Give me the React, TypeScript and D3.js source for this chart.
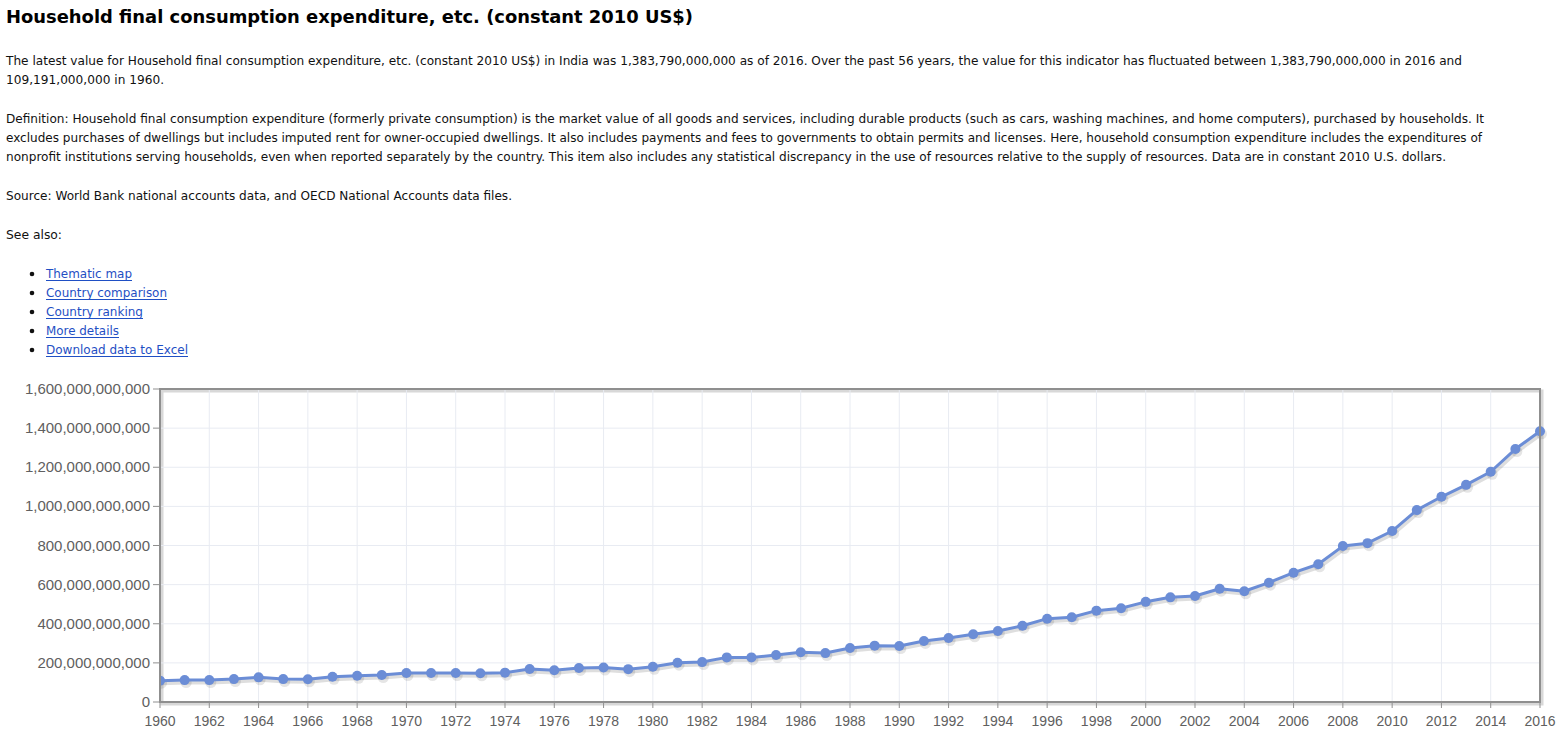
import React from "react";
import * as d3 from "d3";

// India, household final consumption expenditure (constant 2010 US$), billions
const years = d3.range(1960, 2017);
const valuesBn = [
  109.19, 112, 112, 117, 126, 117, 116, 129, 134, 138,
  148, 148, 148, 147, 150, 169, 162, 174, 176, 168,
  180, 201, 204, 228, 228, 240, 254, 250, 276, 288,
  286, 312, 327, 346, 363, 390, 426, 433, 467, 479,
  512, 535, 542, 579, 566, 610, 661, 704, 797, 812,
  874, 981, 1049, 1110, 1177, 1293, 1383.79,
];
const yTicks = [0, 2e11, 4e11, 6e11, 8e11, 1e12, 1.2e12, 1.4e12, 1.6e12];
const xTicks = d3.range(1960, 2017, 2);

const title = "Household final consumption expenditure, etc. (constant 2010 US$)";
const introLines = [
  "The latest value for Household final consumption expenditure, etc. (constant 2010 US$) in India was 1,383,790,000,000 as of 2016. Over the past 56 years, the value for this indicator has fluctuated between 1,383,790,000,000 in 2016 and",
  "109,191,000,000 in 1960.",
];
const definitionLines = [
  "Definition: Household final consumption expenditure (formerly private consumption) is the market value of all goods and services, including durable products (such as cars, washing machines, and home computers), purchased by households. It",
  "excludes purchases of dwellings but includes imputed rent for owner-occupied dwellings. It also includes payments and fees to governments to obtain permits and licenses. Here, household consumption expenditure includes the expenditures of",
  "nonprofit institutions serving households, even when reported separately by the country. This item also includes any statistical discrepancy in the use of resources relative to the supply of resources. Data are in constant 2010 U.S. dollars.",
];
const sourceLine = "Source: World Bank national accounts data, and OECD National Accounts data files.";
const links = ["Thematic map", "Country comparison", "Country ranking", "More details", "Download data to Excel"];

// measured right edges of each text line (to keep wrapping identical)
const introEnds = [1462, 164];
const definitionEnds = [1484, 1482, 1446];
const linkEnds = [132, 167, 143, 119, 188];

const W = 1564;
const H = 745;
const plot = { left: 160, right: 1540, top: 389, bottom: 702 };
const lineColor = "#6b8dd6";
const textFont = "'DejaVu Sans', Verdana, sans-serif";
const axisFont = "'Liberation Sans', Arial, sans-serif";

export default function App() {
  const x = d3.scaleLinear().domain([1960, 2016]).range([plot.left, plot.right]);
  const y = d3.scaleLinear().domain([0, 1.6e12]).range([plot.bottom, plot.top]);
  const data = years.map((yr, i) => ({ yr, v: valuesBn[i] * 1e9 }));
  const line = d3
    .line<{ yr: number; v: number }>()
    .x((d) => x(d.yr))
    .y((d) => y(d.v));
  const fmt = d3.format(",.0f");
  const path = line(data) || "";

  return (
    <div style={{ position: "absolute", left: 0, top: 0, background: "#fff" }}>
      <svg width={W} height={H} style={{ display: "block" }}>
        <defs>
          <clipPath id="plotClip">
            <rect x={plot.left} y={plot.top - 8} width={plot.right - plot.left + 8} height={plot.bottom - plot.top + 8} />
          </clipPath>
        </defs>

        {/* header text */}
        <text x={6} y={23} fontFamily={textFont} fontWeight="bold" fontSize={17} fill="#000"
          textLength={687} lengthAdjust="spacingAndGlyphs">{title}</text>
        {introLines.map((t, i) => (
          <text key={t} x={6} y={65 + i * 19} fontFamily={textFont} fontSize={12} fill="#111"
            textLength={introEnds[i] - 6} lengthAdjust="spacingAndGlyphs">{t}</text>
        ))}
        {definitionLines.map((t, i) => (
          <text key={t} x={6} y={122.5 + i * 19} fontFamily={textFont} fontSize={12} fill="#111"
            textLength={definitionEnds[i] - 6} lengthAdjust="spacingAndGlyphs">{t}</text>
        ))}
        <text x={6} y={199.5} fontFamily={textFont} fontSize={12} fill="#111"
          textLength={506} lengthAdjust="spacingAndGlyphs">{sourceLine}</text>
        <text x={6} y={238.5} fontFamily={textFont} fontSize={12} fill="#111"
          textLength={56} lengthAdjust="spacingAndGlyphs">See also:</text>
        {links.map((t, i) => {
          const by = 278 + i * 19;
          return (
            <g key={t}>
              <circle cx={32} cy={by - 4} r={2.3} fill="#111" />
              <text x={46} y={by} fontFamily={textFont} fontSize={12} fill="#1f4fc4"
                textLength={linkEnds[i] - 46} lengthAdjust="spacingAndGlyphs">{t}</text>
              <line x1={46} x2={linkEnds[i]} y1={by + 2.5} y2={by + 2.5} stroke="#1f4fc4" strokeWidth={1} />
            </g>
          );
        })}

        {/* plot frame shadow */}
        <rect x={plot.left + 2} y={plot.top + 2} width={plot.right - plot.left} height={plot.bottom - plot.top}
          fill="none" stroke="#d8d8d8" strokeWidth={3} />

        {/* grid */}
        {xTicks.map((t) => (
          <line key={"gx" + t} x1={x(t)} x2={x(t)} y1={plot.top} y2={plot.bottom} stroke="#e8ebf2" strokeWidth={1} />
        ))}
        {yTicks.map((t) => (
          <line key={"gy" + t} x1={plot.left} x2={plot.right} y1={y(t)} y2={y(t)} stroke="#e8ebf2" strokeWidth={1} />
        ))}

        {/* series */}
        <g clipPath="url(#plotClip)">
          <path d={path} transform="translate(1.5,2.5)" fill="none" stroke="rgba(0,0,0,0.13)" strokeWidth={4} strokeLinejoin="round" />
          {data.map((d) => (
            <circle key={"s" + d.yr} cx={x(d.yr) + 1.5} cy={y(d.v) + 2.5} r={5.5} fill="rgba(0,0,0,0.1)" />
          ))}
          <path d={path} fill="none" stroke={lineColor} strokeWidth={3} strokeLinejoin="round" />
          {data.map((d) => (
            <circle key={"p" + d.yr} cx={x(d.yr)} cy={y(d.v)} r={5} fill={lineColor} />
          ))}
        </g>

        {/* frame */}
        <rect x={plot.left} y={plot.top} width={plot.right - plot.left} height={plot.bottom - plot.top}
          fill="none" stroke="#8f8f8f" strokeWidth={2} />

        {/* y axis */}
        {yTicks.map((t) => (
          <g key={"yt" + t}>
            <line x1={plot.left - 7} x2={plot.left} y1={y(t)} y2={y(t)} stroke="#8f8f8f" strokeWidth={1} />
            <text x={plot.left - 10} y={y(t) + 5} textAnchor="end" fontFamily={axisFont} fontSize={15} fill="#606060">
              {fmt(t)}
            </text>
          </g>
        ))}

        {/* x axis */}
        {xTicks.map((t) => (
          <g key={"xt" + t}>
            <line x1={x(t)} x2={x(t)} y1={plot.bottom} y2={plot.bottom + 6} stroke="#8f8f8f" strokeWidth={1} />
            <text x={x(t)} y={726} textAnchor="middle" fontFamily={axisFont} fontSize={14} fill="#606060">
              {t}
            </text>
          </g>
        ))}
      </svg>
    </div>
  );
}
